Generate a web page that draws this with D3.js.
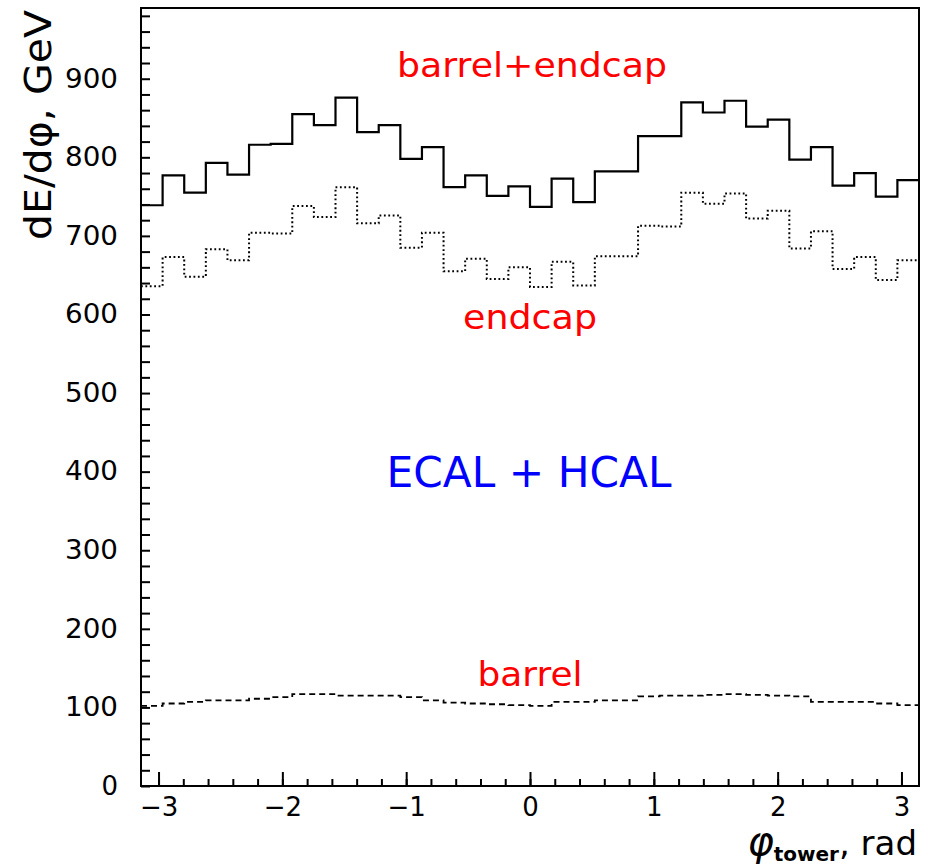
<!DOCTYPE html>
<html>
<head>
<meta charset="utf-8">
<script src="https://cdn.jsdelivr.net/npm/d3@7"></script>
<style>
  html, body { margin: 0; padding: 0; background: #fff; }
  svg { display: block; font-family: "DejaVu Sans", sans-serif; }
</style>
</head>
<body>
<svg id="chart" width="928" height="867"></svg>
<script>
// Energy flow per unit azimuth, 36 tower bins in phi over [-pi, pi]
const nBins = 36;
const totalValues  = [739, 777, 755, 793, 778, 816, 817, 855, 841, 876, 832, 841,
                      798, 813, 762, 777, 751, 763, 737, 773, 743, 782, 782, 827,
                      827, 870, 857, 872, 839, 848, 797, 813, 764, 780, 750, 771];
const endcapValues = [636, 673, 648, 683, 669, 704, 703, 738, 724, 762, 716, 726,
                      685, 704, 655, 671, 645, 660, 635, 667, 637, 674, 674, 713,
                      712, 755, 741, 754, 722, 732, 684, 706, 658, 673, 644, 669];
const barrelValues = [102, 105, 107, 109, 109, 111, 113, 117, 117, 115, 115, 115,
                      113, 109, 106, 105, 104, 103, 102, 107, 107, 109, 109, 114,
                      115, 115, 116, 117, 116, 115, 114, 107, 107, 107, 105, 103];
const xMajorTicks = [-3, -2, -1, 0, 1, 2, 3];
const yMajorTicks = [0, 100, 200, 300, 400, 500, 600, 700, 800, 900];

const svg = d3.select("#chart");
const frameLeft = 141, frameRight = 919, frameTop = 8, frameBottom = 786;

const x = d3.scaleLinear().domain([-Math.PI, Math.PI]).range([frameLeft, frameRight]);
const y = d3.scaleLinear().domain([0, 990]).range([frameBottom, frameTop]);

// bin edges of the phi histogram
const edges = d3.range(nBins + 1).map(i => -Math.PI + i * 2 * Math.PI / nBins);

function stepPoints(vals) {
  const pts = vals.map((v, i) => [edges[i], v]);
  pts.push([edges[nBins], vals[nBins - 1]]);
  return pts;
}
const line = d3.line()
  .x(d => x(d[0]))
  .y(d => y(d[1]))
  .curve(d3.curveStepAfter);

const g = svg.append("g");

// histograms
g.append("path").datum(stepPoints(endcapValues))
  .attr("d", line).attr("fill", "none").attr("stroke", "#000")
  .attr("stroke-width", 2).attr("stroke-dasharray", "1.8,2.6");
g.append("path").datum(stepPoints(barrelValues))
  .attr("d", line).attr("fill", "none").attr("stroke", "#000")
  .attr("stroke-width", 1.8).attr("stroke-dasharray", "6,4");
g.append("path").datum(stepPoints(totalValues))
  .attr("d", line).attr("fill", "none").attr("stroke", "#000")
  .attr("stroke-width", 2.2);

// y axis: inward ticks every 20, labels every 100
const yAxis = d3.axisLeft(y)
  .tickValues(d3.range(0, 981, 20))
  .tickSizeInner(-9).tickSizeOuter(0).tickPadding(23)
  .tickFormat(d => yMajorTicks.includes(d) ? d3.format("d")(d) : "");
const ya = svg.append("g").attr("transform", `translate(${frameLeft},0)`).call(yAxis);

// x axis: minor ticks every 0.2, major ticks on integers
const xMinor = d3.axisBottom(x)
  .tickValues(d3.range(-30, 31, 2).map(v => v / 10))
  .tickSizeInner(-7).tickSizeOuter(0).tickFormat("");
const xMajor = d3.axisBottom(x)
  .tickValues(xMajorTicks)
  .tickSizeInner(-14).tickSizeOuter(0).tickPadding(12)
  .tickFormat(d3.format("d"));
const xa1 = svg.append("g").attr("transform", `translate(0,${frameBottom})`).call(xMinor);
const xa2 = svg.append("g").attr("transform", `translate(0,${frameBottom})`).call(xMajor);

[ya, xa1, xa2].forEach(a => {
  a.select(".domain").remove();
  a.selectAll(".tick line").attr("stroke", "#000").attr("stroke-width", 2);
  a.selectAll(".tick text").attr("fill", "#000")
    .style("font-family", "'DejaVu Sans', sans-serif").style("font-size", "26px");
});
ya.selectAll(".tick text").each(function () {
  const s = d3.select(this).text();
  if (s.length === 3) d3.select(this).attr("textLength", 53).attr("lengthAdjust", "spacingAndGlyphs");
});

// frame
svg.append("rect")
  .attr("x", frameLeft).attr("y", frameTop)
  .attr("width", frameRight - frameLeft).attr("height", frameBottom - frameTop)
  .attr("fill", "none").attr("stroke", "#000").attr("stroke-width", 2);

// labels inside the plot
function label(txt, cx, base, size, color, len) {
  const t = svg.append("text")
    .attr("x", cx).attr("y", base)
    .attr("text-anchor", "middle")
    .attr("fill", color)
    .style("font-size", size + "px")
    .text(txt);
  if (len) t.attr("textLength", len).attr("lengthAdjust", "spacingAndGlyphs");
  return t;
}
label("barrel+endcap", 532, 77, 33, "#ff0000", 270);
label("endcap", 530, 329, 33, "#ff0000", 134);
label("ECAL + HCAL", 529, 487, 43, "#0000ff", 285);
label("barrel", 530, 686, 33, "#ff0000", 105);

// axis titles
svg.append("text")
  .attr("transform", "translate(51,10) rotate(-90)")
  .attr("text-anchor", "end")
  .attr("fill", "#000")
  .style("font-size", "38px")
  .attr("textLength", 230).attr("lengthAdjust", "spacingAndGlyphs")
  .text("dE/dφ, GeV");

const xt = svg.append("text")
  .attr("x", 917).attr("y", 855)
  .attr("text-anchor", "end")
  .attr("fill", "#000");
xt.append("tspan").style("font-size", "40px").style("font-style", "italic").text("φ");
xt.append("tspan").style("font-size", "20px").style("font-weight", "bold")
  .attr("dy", 6).text("tower");
xt.append("tspan").style("font-size", "34px").attr("dy", -6).text(", rad");
</script>
</body>
</html>
